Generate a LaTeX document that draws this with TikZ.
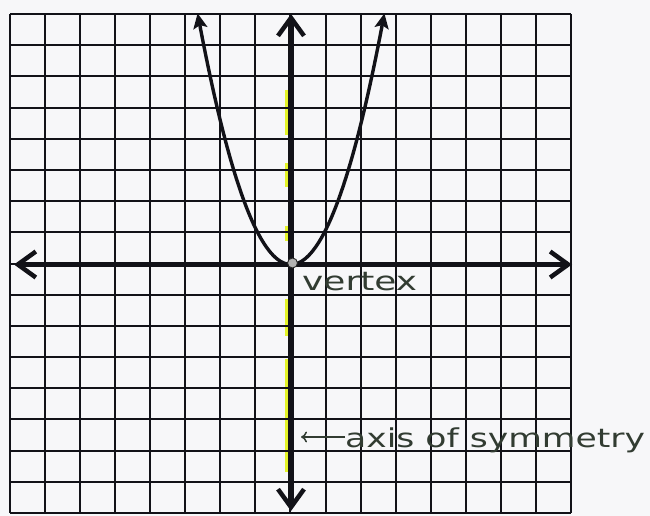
\documentclass[tikz,border=0pt]{standalone}
\usepackage{fontspec}
\newfontfamily\hand{DejaVu Sans}
\usetikzlibrary{arrows.meta}
\definecolor{paper}{RGB}{247,247,249}
\definecolor{ink}{RGB}{18,18,24}
\definecolor{pencil}{RGB}{50,60,50}
\definecolor{hilite}{RGB}{228,244,40}
\tikzset{
  gridline/.style={draw=ink, line width=2pt},
  axisline/.style={draw=ink, line width=5.5pt, {Straight Barb[length=18pt,width=26pt,line width=4.5pt]}-{Straight Barb[length=18pt,width=26pt,line width=4.5pt]}},
  curveline/.style={draw=ink, line width=3.4pt, {Stealth[length=15pt,width=14pt,inset=3pt]}-{Stealth[length=15pt,width=14pt,inset=3pt]}},
  vdot/.style={circle, minimum size=10pt, inner sep=0pt, fill=gray!60, draw=gray!30!black, line width=0.9pt},
  lbl/.style={text=pencil, inner sep=0pt, font=\hand\fontsize{26}{30}\selectfont},
  pointer/.style={draw=pencil, line width=1.5pt, -{To[length=6pt,width=11pt]}},
  hl/.style={draw=hilite, line width=3.5pt}
}
\begin{document}
\begin{tikzpicture}[x=1pt,y=-1pt]
\fill[paper] (0,0) rectangle (650,516);
\useasboundingbox (0,0) rectangle (650,516);
% highlight of the axis of symmetry
\foreach \a/\b in {90/135,163/187,226/241,299/336,359/472}
  \draw[hl] (286.5,\a) -- (286.5,\b);
% grid
\foreach \i in {0,...,16}
  \draw[gridline] ({10+35.06*\i},14) -- ({10+35.06*\i},513);
\foreach \j in {0,...,16}
  \draw[gridline] (10,{14+31.19*\j}) -- (571,{14+31.19*\j});
% axes
\coordinate (O) at (291,264.5);
\coordinate (xl) at (14,264.5);
\coordinate (xr) at (572,264.5);
\coordinate (yt) at (291,14);
\coordinate (yb) at (291,511);
\draw[axisline] (xl) -- (xr);
\draw[axisline] (yt) -- (yb);
% parabola
\draw[curveline] plot[domain=-93.4:93.4, samples=90, smooth] ({291+\x},{264.5-0.0288*\x*\x});
\node[vdot] (v) at (292.5,263) {};
% labels
\node[lbl, anchor=base west] (vl) at (302,290) {\scalebox{1.38}[1]{vertex}};
\node[lbl, anchor=base west] (al) at (345,447) {\scalebox{1.33}[1]{axis of symmetry}};
\coordinate (ap) at (301,437);
\draw[pointer] (al.west |- ap) -- (ap);
\end{tikzpicture}
\end{document}
